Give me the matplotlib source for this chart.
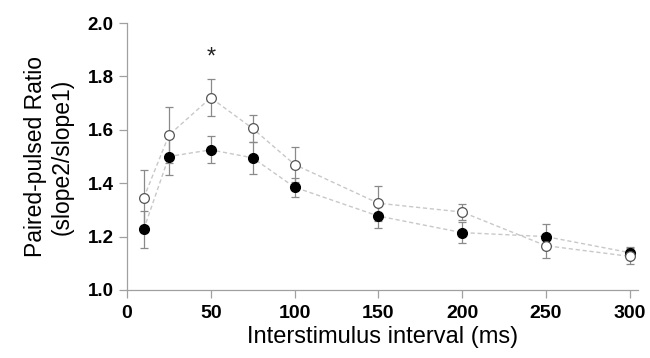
import matplotlib
matplotlib.use("Agg")
import matplotlib.pyplot as plt

plt.rcParams['font.family'] = ['Liberation Sans', 'DejaVu Sans']

# interstimulus intervals (ms)
isi = [10, 25, 50, 75, 100, 150, 200, 250, 300]

# open circles
open_mean = [1.345, 1.58, 1.72, 1.605, 1.47, 1.325, 1.292, 1.166, 1.126]
open_err = [0.105, 0.105, 0.07, 0.05, 0.065, 0.065, 0.03, 0.045, 0.03]

# filled circles
filled_mean = [1.227, 1.50, 1.525, 1.495, 1.385, 1.277, 1.215, 1.20, 1.14]
filled_err = [0.07, 0.07, 0.05, 0.06, 0.035, 0.045, 0.04, 0.047, 0.02]

yticks = [1.0, 1.2, 1.4, 1.6, 1.8, 2.0]
xticks = [0, 50, 100, 150, 200, 250, 300]

fig = plt.figure(figsize=(6.5, 3.58), dpi=100)
ax = fig.add_axes([127 / 650, 1 - 290 / 358, (638 - 127) / 650, (290 - 23) / 358])

line_col = '#c8c8c8'
err_col = '#8a8a8a'

# dashed connecting lines
ax.plot(isi, open_mean, linestyle=(0, (3, 2)), color=line_col, lw=1, zorder=1)
ax.plot(isi, filled_mean, linestyle=(0, (3, 2)), color=line_col, lw=1, zorder=1)

ax.errorbar(isi, open_mean, yerr=open_err, fmt='none', ecolor=err_col,
            elinewidth=0.9, capsize=3, capthick=0.9, zorder=2)
ax.errorbar(isi, filled_mean, yerr=filled_err, fmt='none', ecolor=err_col,
            elinewidth=0.9, capsize=3, capthick=0.9, zorder=2)

ax.plot(isi, filled_mean, 'o', color='black', markersize=7, zorder=3)
ax.plot(isi, open_mean, 'o', markerfacecolor='white', markeredgecolor='#555555',
        markeredgewidth=0.9, markersize=7, zorder=4)

ax.text(50, 1.87, '*', ha='center', va='center', fontsize=17, color='#222222')

ax.set_xlim(0, 305)
ax.set_ylim(1.0, 2.0)
ax.set_xticks(xticks)
ax.set_yticks(yticks)
ax.set_yticklabels([f'{v:.1f}' for v in yticks])

for s in ['top', 'right']:
    ax.spines[s].set_visible(False)
for s in ['left', 'bottom']:
    ax.spines[s].set_color('#a0a0a0')
    ax.spines[s].set_linewidth(0.9)
ax.tick_params(axis='both', colors='#a0a0a0', length=6, width=0.9, labelcolor='black')
ax.tick_params(axis='x', pad=5)
for lbl in ax.get_xticklabels():
    lbl.set_fontweight('bold')
    lbl.set_fontsize(14)
for lbl in ax.get_yticklabels():
    lbl.set_fontweight('bold')
    lbl.set_fontsize(13.5)

ax.set_xlabel('Interstimulus interval (ms)', fontsize=17, labelpad=3)
ax.set_ylabel('Paired-pulsed Ratio\n(slope2/slope1)', fontsize=16.5, labelpad=10)

fig.savefig('out.png', dpi=100)
